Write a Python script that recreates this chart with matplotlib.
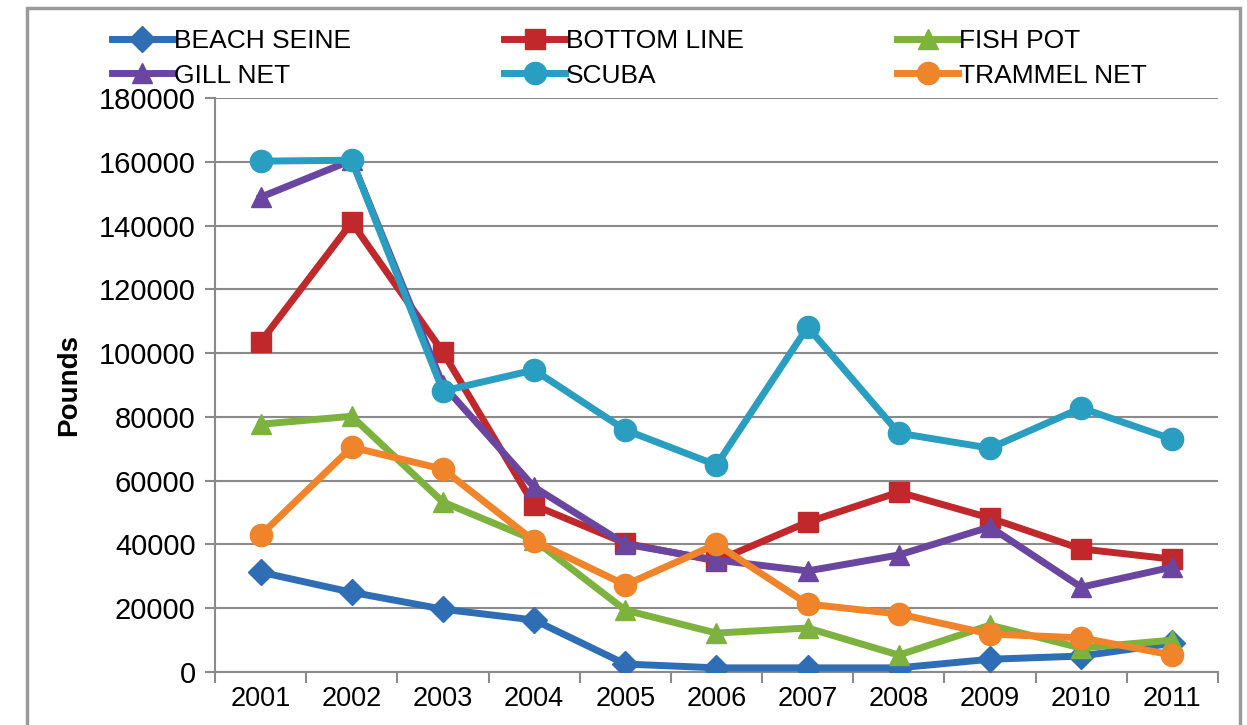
import matplotlib.pyplot as plt
from matplotlib.patches import Rectangle

years = ["2001", "2002", "2003", "2004", "2005", "2006", "2007", "2008", "2009", "2010", "2011"]

beach_seine = [31300, 25000, 19700, 16300, 2500, 1300, 1300, 1300, 4000, 5000, 9000]
bottom_line = [103500, 141000, 100300, 52300, 40400, 34800, 47000, 56400, 48300, 38600, 35400]
fish_pot = [77700, 80200, 53300, 41400, 19400, 12200, 13800, 5300, 14700, 7500, 10000]
gill_net = [148900, 160500, 90000, 58000, 40100, 35100, 31700, 36700, 45500, 26600, 32900]
scuba = [160200, 160500, 88100, 94700, 75900, 64900, 108200, 74900, 70200, 82800, 73000]
trammel_net = [42900, 70500, 63600, 41100, 27300, 40100, 21300, 18200, 11900, 10700, 5300]

series = [
    ("BEACH SEINE", beach_seine, "#2F6DB5", "D"),
    ("BOTTOM LINE", bottom_line, "#C0282B", "s"),
    ("FISH POT", fish_pot, "#7DB23F", "^"),
    ("GILL NET", gill_net, "#6A46A0", "^"),
    ("SCUBA", scuba, "#2A9EC0", "o"),
    ("TRAMMEL NET", trammel_net, "#F0842A", "o"),
]

plt.rcParams["font.family"] = ["Liberation Sans", "DejaVu Sans"]

fig = plt.figure(figsize=(12.47, 7.25), dpi=100)
ax = fig.add_axes([0.1724, 0.0731, 0.8043, 0.7917])

# outer chart frame
fig.patches.append(Rectangle((27 / 1247, -0.05), (1240 - 27) / 1247, 1 - 8 / 725 + 0.05,
                             transform=fig.transFigure, fill=False,
                             edgecolor="#9a9a9a", linewidth=2.5))

x = list(range(len(years)))
draw_order = [0, 2, 5, 1, 3, 4]
handles = {}
for i in draw_order:
    name, vals, color, mk = series[i]
    ms = {"D": 13, "s": 14, "^": 15, "o": 16}[mk]
    h, = ax.plot(x, vals, color=color, marker=mk, markersize=ms, linewidth=5,
                 label=name, zorder=3 + i)
    handles[i] = h

ax.set_xlim(-0.5, len(years) - 0.5)
ax.set_ylim(0, 180000)
ax.set_yticks(range(0, 180001, 20000))
ax.set_xticks(x)
ax.set_xticklabels(years)
ax.set_xticks([v + 0.5 for v in range(-1, len(years))], minor=True)
ax.tick_params(axis="x", which="major", length=0, pad=10, labelsize=19.5)
ax.tick_params(axis="x", which="minor", length=8, width=1.5, color="#8a8a8a", direction="out")
ax.tick_params(axis="y", length=7, width=1.5, color="#8a8a8a", labelsize=21, pad=7)

ax.grid(axis="y", color="#8a8a8a", linewidth=1.5)
ax.set_axisbelow(True)
for side in ["top", "right"]:
    ax.spines[side].set_visible(False)
for side in ["left", "bottom"]:
    ax.spines[side].set_color("#8a8a8a")
    ax.spines[side].set_linewidth(1.5)

ax.set_ylabel("Pounds", fontsize=20, fontweight="bold", labelpad=12)

# legend rows read left to right, so feed columns in that order
leg_order = [0, 3, 1, 4, 2, 5]
leg = fig.legend([handles[i] for i in leg_order], [series[i][0] for i in leg_order], ncol=3,
                 loc="upper left", bbox_to_anchor=(112 / 1247, 1 - 29 / 725),
                 frameon=False, fontsize=19, handlelength=2.3, handletextpad=0.05,
                 columnspacing=5.8, labelspacing=0.4, borderaxespad=0, borderpad=0)

fig.savefig("out.png", dpi=100)
